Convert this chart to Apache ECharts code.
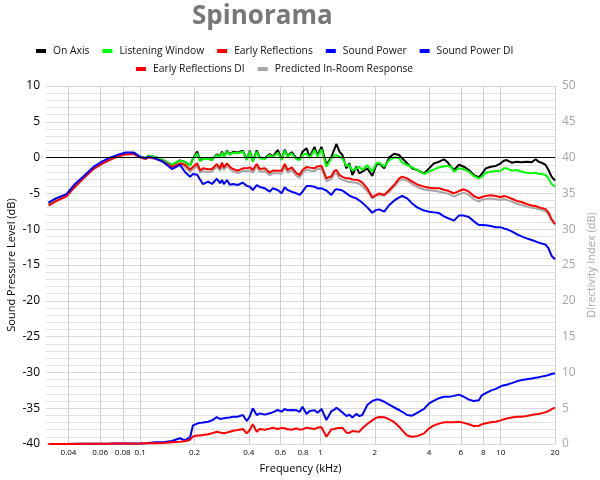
<!DOCTYPE html>
<html>
<head>
<meta charset="utf-8">
<title>Spinorama</title>
<script src="https://cdn.jsdelivr.net/npm/echarts@6/dist/echarts.min.js"></script>
<style>
html, body { margin: 0; padding: 0; background: #fff; }
#chart { width: 600px; height: 480px; }
</style>
</head>
<body>
<div id="chart"></div>
<script>
// frequency points (Hz)
const freqHz = [
  31, 34, 39, 43, 48, 55, 62, 68, 76, 83,
  92, 100, 107, 111, 121, 134, 150, 166, 177, 189,
  196, 207, 215, 223, 238, 250, 266, 277, 284, 291,
  303, 314, 327, 348, 371, 390, 405, 421, 443, 460,
  491, 523, 543, 579, 609, 633, 657, 692, 737, 766,
  795, 837, 870, 927, 963, 1013, 1079, 1150, 1195, 1226,
  1274, 1323, 1392, 1446, 1502, 1581, 1642, 1706, 1818, 1938,
  2039, 2118, 2258, 2406, 2563, 2732, 2838, 3025, 3224, 3436,
  3755, 4002, 4265, 4546, 4843, 5032, 5294, 5499, 5861, 6246,
  6656, 7092, 7560, 7852, 8262, 8805, 9383, 10000, 10390, 10790,
  11500, 12260, 13060, 13920, 14840, 15610, 16220, 16840, 17730, 18420,
  19130, 20000
];

// dB, left axis
const onAxis = [
  -6.4, -5.8, -5.2, -4.0, -2.8, -1.4, -0.6, -0.1, 0.35, 0.6,
  0.65, 0.1, -0.05, 0.25, 0.1, -0.35, -1.0, -0.4, -0.6, -1.1,
  -0.15, 0.85, -0.45, -0.15, -0.15, -0.3, 0.45, 0.2, 0.85, 0.2,
  0.95, 0.45, 0.8, 0.7, 0.95, -0.3, 0.95, -0.5, 1.0, 0.0,
  -0.1, 0.5, 0.15, 1.06, -0.2, 1.1, 0.25, 0.75, -0.1, -0.2,
  0.83, 1.3, 0.1, 1.5, 0.3, 1.5, -1.0, 0.1, 1.2, 1.9,
  0.83, 0.36, -1.5, -0.8, -2.43, -1.27, -2.2, -1.97, -1.5, -2.57,
  -1.03, -0.8, -1.5, 0.04, 0.53, 0.36, -0.1, -0.8, -1.5, -1.73,
  -2.2, -1.5, -0.8, -0.57, -0.24, -0.57, -1.27, -1.73, -1.0, -1.27,
  -1.73, -2.43, -2.75, -2.29, -1.5, -1.27, -1.17, -0.8, -0.43, -0.34,
  -0.71, -0.57, -0.66, -0.57, -0.66, -0.24, -0.57, -0.71, -1.03, -1.73,
  -2.66, -3.2
];
const listeningWindow = [
  -6.4, -5.8, -5.2, -4.0, -2.8, -1.4, -0.6, -0.1, 0.35, 0.6,
  0.65, 0.1, -0.05, 0.25, 0.1, -0.35, -1.0, -0.4, -0.6, -1.1,
  -0.2, 0.6, -0.5, -0.2, -0.2, -0.33, 0.36, 0.13, 0.69, 0.13,
  0.83, 0.36, 0.69, 0.6, 0.83, -0.33, 0.83, -0.57, 0.83, -0.1,
  -0.2, 0.36, 0.04, 0.69, -0.33, 0.97, 0.13, 0.6, -0.24, -0.33,
  0.36, 0.6, -0.1, 1.06, 0.13, 1.15, -1.27, -0.1, 0.3, 0.36,
  0.13, -0.1, -1.17, -1.03, -1.8, -1.5, -1.27, -1.73, -1.03, -1.97,
  -0.8, -0.71, -1.27, -0.34, 0.04, -0.1, -0.71, -1.03, -1.36, -1.73,
  -2.29, -1.97, -1.64, -1.36, -1.2, -1.17, -1.27, -1.97, -1.5, -1.64,
  -1.97, -2.57, -2.9, -2.66, -2.12, -1.97, -1.87, -1.83, -1.5, -1.5,
  -1.83, -1.73, -1.97, -2.12, -2.2, -2.12, -2.29, -2.29, -2.43, -2.9,
  -3.69, -4.06
];
const earlyReflections = [
  -6.7, -6.1, -5.4, -4.2, -3.0, -1.6, -0.8, -0.3, 0.2, 0.45,
  0.5, 0.0, -0.2, 0.05, -0.15, -0.55, -1.3, -0.8, -1.0, -1.7,
  -1.3, -0.8, -1.8, -1.5, -1.64, -1.6, -0.89, -1.5, -0.71, -1.36,
  -0.8, -1.27, -1.6, -1.83, -1.5, -1.5, -1.36, -1.73, -0.89, -1.6,
  -1.5, -2.1, -1.8, -1.83, -1.83, -0.89, -1.73, -1.36, -2.2, -2.43,
  -1.73, -1.3, -1.4, -1.5, -1.2, -1.17, -2.9, -2.6, -1.85, -1.73,
  -2.43, -2.7, -2.9, -2.9, -3.05, -3.1, -3.22, -3.5, -4.3, -5.55,
  -5.22, -4.99, -5.22, -4.53, -3.83, -2.9, -2.66, -2.9, -3.36, -3.75,
  -4.06, -4.2, -4.29, -4.29, -4.5, -4.6, -4.8, -4.99, -4.67, -4.43,
  -4.76, -5.36, -5.69, -5.5, -5.36, -5.25, -5.36, -5.55, -5.36, -5.45,
  -5.75, -6.05, -6.2, -6.48, -6.7, -6.76, -6.95, -7.05, -7.2, -7.7,
  -8.6, -9.27
];
const soundPower = [
  -6.3, -5.7, -5.1, -3.8, -2.7, -1.3, -0.5, 0.0, 0.45, 0.7,
  0.7, 0.1, -0.1, 0.1, -0.1, -0.6, -1.6, -1.0, -2.0, -2.66,
  -2.3, -2.4, -3.1, -3.7, -3.36, -3.69, -2.95, -3.59, -3.13, -3.69,
  -3.13, -3.8, -3.69, -3.83, -3.5, -3.95, -4.06, -4.53, -3.83, -4.1,
  -4.29, -4.76, -4.29, -4.53, -4.99, -4.15, -4.53, -4.76, -5.0, -5.22,
  -4.76, -3.97, -3.97, -4.06, -4.3, -4.29, -4.6, -5.22, -4.6, -4.4,
  -4.5, -4.6, -4.99, -5.3, -5.5, -5.7, -6.0, -6.3, -6.95, -7.7,
  -7.3, -7.23, -7.55, -6.62, -6.02, -5.55, -5.36, -5.69, -6.4, -6.95,
  -7.4, -7.55, -7.65, -7.75, -8.2, -8.4, -8.62, -8.8, -8.1, -8.1,
  -8.3, -8.9, -9.41, -9.41, -9.45, -9.55, -9.74, -9.74, -9.88, -10.0,
  -10.3, -10.7, -11.0, -11.28, -11.51, -11.7, -11.88, -12.0, -12.15, -12.67,
  -13.7, -14.2
];
const predictedInRoom = [
  -6.6, -6.0, -5.3, -4.1, -2.9, -1.5, -0.7, -0.2, 0.3, 0.55,
  0.6, 0.05, -0.1, 0.15, -0.05, -0.55, -1.4, -0.85, -1.3, -2.0,
  -1.6, -1.2, -2.1, -1.9, -2.0, -1.95, -1.25, -1.85, -1.05, -1.7,
  -1.15, -1.6, -1.95, -2.15, -1.85, -1.9, -1.75, -2.1, -1.25, -1.95,
  -1.9, -2.45, -2.2, -2.2, -2.25, -1.3, -2.1, -1.75, -2.6, -2.8,
  -2.1, -1.7, -1.8, -1.9, -1.6, -1.55, -3.3, -3.0, -2.25, -2.2,
  -2.9, -3.1, -3.3, -3.36, -3.45, -3.5, -3.69, -4.0, -4.7, -5.7,
  -5.36, -5.22, -5.3, -4.76, -4.06, -3.22, -3.03, -3.22, -3.69, -4.1,
  -4.45, -4.55, -4.62, -4.76, -4.9, -5.0, -5.2, -5.45, -5.13, -4.9,
  -5.22, -5.83, -6.15, -5.9, -5.8, -5.7, -5.83, -5.92, -5.83, -5.9,
  -6.15, -6.45, -6.62, -6.85, -7.0, -7.09, -7.23, -7.3, -7.5, -7.95,
  -8.75, -9.4
];

// dB, right axis (directivity index)
const soundPowerDI = [
  0, 0, 0, 0.02, 0.03, 0.04, 0.05, 0.06, 0.08, 0.08,
  0.06, 0.08, 0.1, 0.15, 0.23, 0.25, 0.42, 0.8, 0.5, 0.95,
  2.6, 2.85, 2.95, 3.0, 3.1, 3.3, 3.75, 3.49, 3.55, 3.6,
  3.68, 3.7, 3.82, 3.82, 4.05, 3.21, 3.82, 4.98, 4.05, 4.28,
  4.1, 4.3, 4.42, 4.75, 4.52, 4.89, 4.7, 4.75, 4.7, 4.5,
  5.21, 4.2, 4.6, 4.7, 4.35, 4.9, 3.35, 4.6, 4.8, 5.07,
  4.75, 4.4, 3.9, 4.1, 3.7, 4.2, 3.9, 4.05, 5.45, 6.0,
  6.2, 6.2, 5.9, 5.5, 5.1, 4.75, 4.5, 4.05, 3.96, 4.35,
  4.9, 5.68, 6.05, 6.4, 6.61, 6.61, 6.65, 6.72, 6.9, 6.6,
  6.2, 6.0, 6.1, 6.8, 7.1, 7.45, 7.7, 8.05, 8.2, 8.28,
  8.5, 8.75, 8.93, 9.05, 9.15, 9.26, 9.33, 9.41, 9.52, 9.64,
  9.78, 9.87
];
const earlyReflectionsDI = [
  0, 0, 0, 0, 0.02, 0.03, 0.04, 0.05, 0.06, 0.06,
  0.05, 0.06, 0.1, 0.12, 0.12, 0.15, 0.23, 0.3, 0.38, 0.6,
  1.05, 1.18, 1.2, 1.26, 1.35, 1.49, 1.72, 1.6, 1.52, 1.5,
  1.6, 1.72, 1.85, 1.96, 2.09, 1.49, 1.96, 2.75, 1.72, 2.1,
  2.0, 2.15, 2.28, 2.09, 2.25, 2.2, 2.05, 2.0, 2.19, 2.0,
  2.05, 2.28, 2.2, 2.09, 2.3, 2.35, 1.02, 2.05, 2.1, 2.19,
  2.25, 2.28, 1.6, 1.55, 1.82, 1.75, 1.72, 2.19, 2.8, 3.3,
  3.68, 3.78, 3.75, 3.45, 3.05, 2.42, 1.9, 1.2, 1.02, 1.1,
  1.49, 2.19, 2.6, 2.85, 3.03, 3.03, 3.03, 3.05, 3.1, 2.95,
  2.75, 2.5, 2.55, 2.75, 2.9, 3.05, 3.12, 3.3, 3.45, 3.55,
  3.7, 3.82, 3.82, 3.92, 4.05, 4.14, 4.2, 4.28, 4.45, 4.61,
  4.85, 5.07
];

// x tick labels (kHz)
const xTicks = [0.04, 0.06, 0.08, 0.1, 0.2, 0.4, 0.6, 0.8, 1, 2, 4, 6, 8, 10, 20];

const font = 'Open Sans';

function toPoints(values) {
  return values.map((v, i) => [freqHz[i] / 1000, v]);
}

function line(name, color, values, yAxisIndex) {
  return {
    name: name,
    type: 'line',
    yAxisIndex: yAxisIndex,
    data: toPoints(values),
    showSymbol: false,
    symbol: 'none',
    lineStyle: { color: color, width: 2 },
    itemStyle: { color: color }
  };
}

const legendStyle = {
  orient: 'horizontal',
  icon: 'rect',
  itemWidth: 10,
  itemHeight: 4,
  itemGap: 13,
  padding: 0,
  textStyle: { fontFamily: font, fontSize: 10.3, color: '#111', padding: [0, 0, 0, 2] }
};

const chart = echarts.init(document.getElementById('chart'));

const onAxisSeries = line('On Axis', '#000000', onAxis, 0);
onAxisSeries.markLine = {
  silent: true,
  symbol: 'none',
  label: { show: false },
  lineStyle: { color: '#000', width: 1, type: 'solid' },
  data: [{ yAxis: 0 }]
};

chart.setOption({
  animation: false,
  backgroundColor: '#fff',
  title: {
    text: 'Spinorama',
    left: 192,
    top: 4,
    padding: 0,
    textStyle: { fontFamily: font, fontWeight: 'bold', fontSize: 26, color: '#777' }
  },
  legend: [
    Object.assign({
      left: 36, top: 46,
      data: ['On Axis', 'Listening Window', 'Early Reflections', 'Sound Power', 'Sound Power DI']
    }, legendStyle),
    Object.assign({
      left: 136, top: 64,
      data: ['Early Reflections DI', 'Predicted In-Room Response']
    }, legendStyle)
  ],
  grid: { left: 46, right: 45, top: 86, bottom: 36, containLabel: false, outerBoundsMode: 'none' },
  xAxis: {
    type: 'log',
    logBase: 10,
    min: 0.03,
    max: 20,
    name: 'Frequency (kHz)',
    nameLocation: 'middle',
    nameGap: 19,
    nameTextStyle: { fontFamily: font, fontSize: 11, color: '#000' },
    axisLine: { show: false },
    axisTick: { show: false, customValues: xTicks },
    axisLabel: {
      customValues: xTicks,
      fontFamily: font,
      fontSize: 8,
      color: '#000',
      margin: 5,
      formatter: v => String(v)
    },
    splitLine: { show: true, lineStyle: { color: '#d0d0d0', width: 1 } },
    minorSplitLine: { show: false }
  },
  yAxis: [
    {
      type: 'value',
      position: 'left',
      min: -40,
      max: 10,
      interval: 5,
      name: 'Sound Pressure Level (dB)',
      nameLocation: 'middle',
      nameRotate: 90,
      nameGap: 29,
      nameMoveOverlap: false,
      nameTextStyle: { fontFamily: font, fontSize: 11, color: '#000' },
      axisLine: { show: false },
      axisTick: { show: false },
      axisLabel: { fontFamily: font, fontSize: 12, color: '#000', margin: 6 },
      splitLine: { lineStyle: { color: '#d9d9d9', width: 1 } },
      minorTick: { show: false, splitNumber: 5 },
      minorSplitLine: { show: true, lineStyle: { color: '#e2e2e2', width: 1 } }
    },
    {
      type: 'value',
      position: 'right',
      min: 0,
      max: 50,
      interval: 5,
      name: 'Directivity Index (dB)',
      nameLocation: 'middle',
      nameRotate: 90,
      nameGap: 31,
      nameMoveOverlap: false,
      nameTextStyle: { fontFamily: font, fontSize: 11, color: '#a6a6a6' },
      axisLine: { show: false },
      axisTick: { show: false },
      axisLabel: { fontFamily: font, fontSize: 12, color: '#a6a6a6', margin: 7 },
      splitLine: { show: false }
    }
  ],
  series: [
    onAxisSeries,
    line('Listening Window', '#00ff00', listeningWindow, 0),
    line('Predicted In-Room Response', '#a6a6a6', predictedInRoom, 0),
    line('Early Reflections', '#ff0000', earlyReflections, 0),
    line('Sound Power', '#0000ff', soundPower, 0),
    line('Sound Power DI', '#0000ff', soundPowerDI, 1),
    line('Early Reflections DI', '#ff0000', earlyReflectionsDI, 1)
  ]
});
</script>
</body>
</html>
